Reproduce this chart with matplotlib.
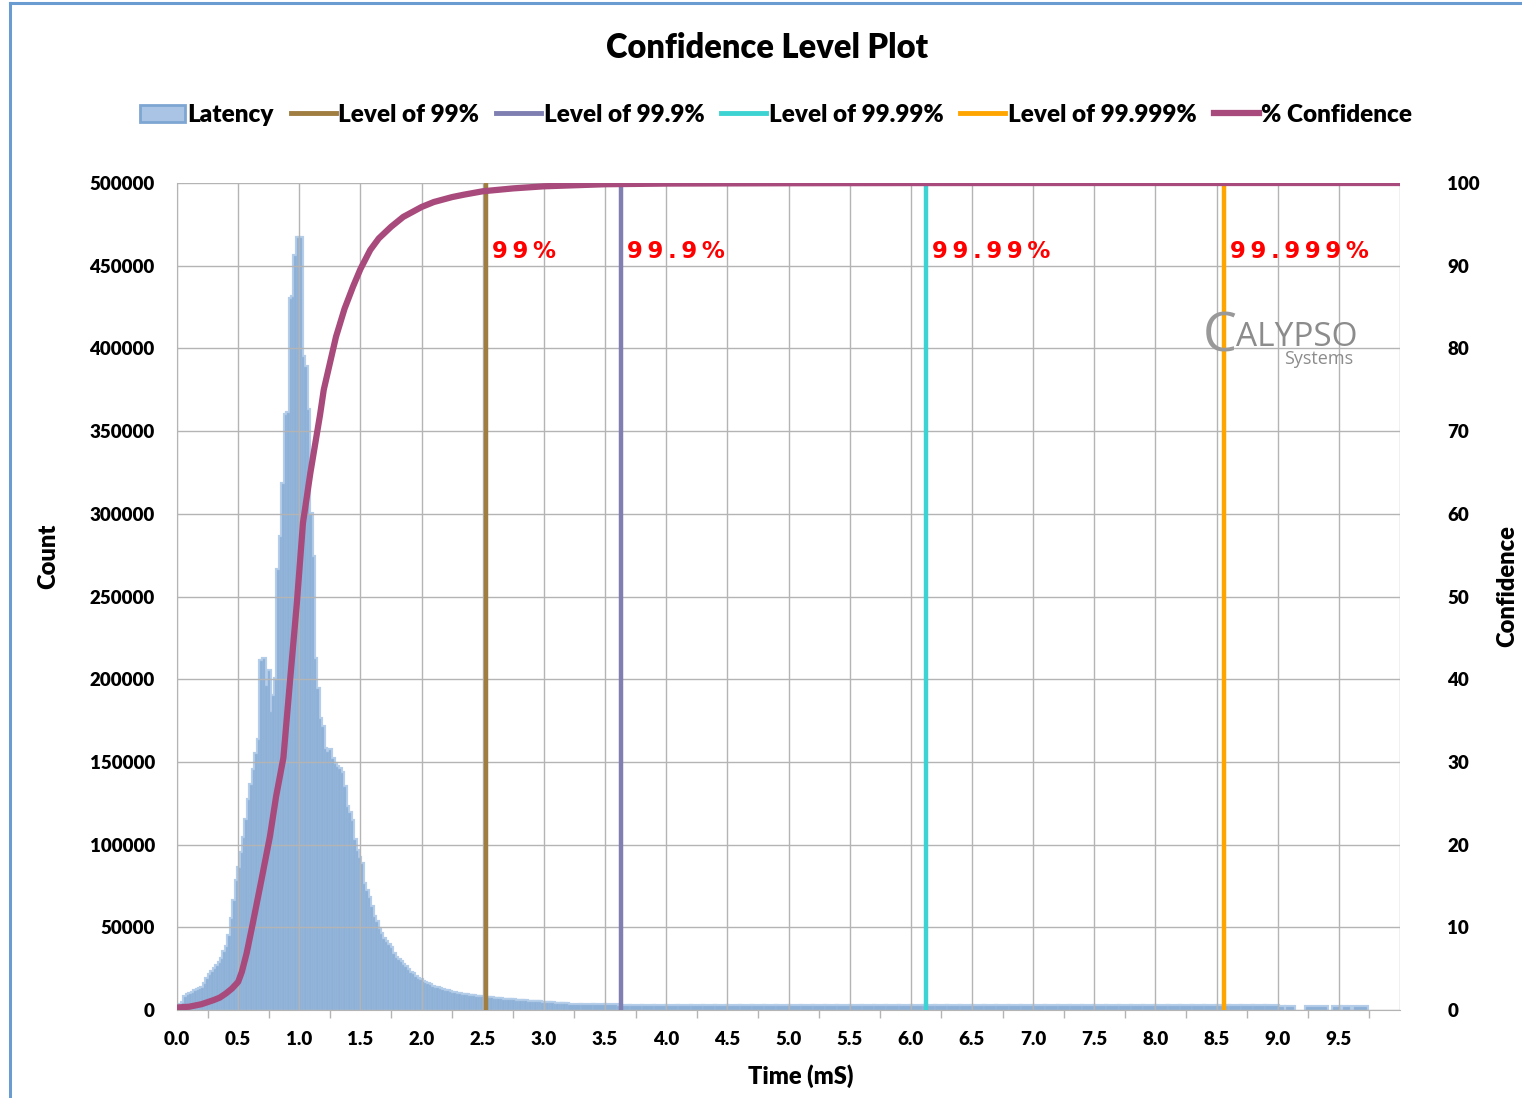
import numpy as np
import matplotlib.pyplot as plt
from matplotlib.lines import Line2D
from matplotlib.patches import Patch

plt.rcParams['font.family'] = ['Lato', 'DejaVu Sans']
plt.rcParams['font.weight'] = 'heavy'

# latency histogram: 0.02 ms bins starting at 0.00 ms
bin_w = 0.02
counts = [
    2000, 3000, 4000, 8000, 9000, 9500, 10500, 11500, 12000, 12500,
    13500, 16000, 19000, 21000, 23000, 24500, 26500, 28500, 31000, 35000,
    38000, 45000, 55000, 66000, 78000, 86000, 95000, 104000, 115000, 127000,
    136000, 145000, 155000, 163000, 211000, 212000, 196000, 205000, 180000, 190000,
    200000, 266000, 286000, 318000, 360000, 361000, 430000, 431000, 456000, 467000,
    467000, 395000, 389000, 363000, 300000, 274000, 212000, 194000, 176000, 171000,
    158000, 156000, 157000, 152000, 149000, 147000, 146000, 143000, 135000, 123000,
    119000, 114000, 103000, 96000, 92000, 88000, 76000, 72000, 68000, 62000,
    56000, 53000, 49000, 46000, 43000, 41000, 39000, 37500, 34000, 31500,
    30000, 29000, 27500, 26000, 24000, 22500, 21500, 20000, 19000, 18000,
    17000, 16500, 16000, 15000, 14000, 13500, 13000, 12500, 12000, 11500,
    11200, 11000, 10500, 10000, 9800, 9500, 9300, 9100, 8900, 8600,
    8400, 8200, 8000, 7800, 7700, 7500, 7300, 7100, 7000, 6800,
    6700, 6600, 6400, 6300, 6100, 6000, 5900, 5800, 5700, 5500,
    5400, 5300, 5200, 5100, 5000, 4900, 4800, 4700, 4600, 4500,
    4400, 4300, 4100, 4000, 3900, 3800, 3700, 3600, 3500, 3400,
]
bin_left = np.round(np.arange(len(counts)) * bin_w, 2)

# long tail, 0.1 ms bins from 3.2 ms
tail_counts = [
    3200, 3000, 2900, 2800, 2700, 2600, 2500, 2500, 2400, 2400,
    2300, 2300, 2300, 2200, 2200, 2200, 2200, 2200, 2200, 2200,
    2200, 2200, 2200, 2200, 2200, 2200, 2200, 2200, 2200, 2200,
    2200, 2200, 2200, 2200, 2200, 2200, 2200, 2200, 2200, 2200,
    2200, 2200, 2200, 2200, 2200, 2200, 2200, 2200, 2200, 2200,
    2200, 2200, 2200, 2200, 2200, 2200, 2200, 2200,
]
tail_left = np.round(3.2 + np.arange(len(tail_counts)) * 0.1, 1)

# isolated outliers past 9 ms
out_left = [9.00, 9.07, 9.23, 9.45, 9.53, 9.62]
out_right = [9.05, 9.13, 9.40, 9.51, 9.59, 9.73]
out_counts = [2000, 1800, 1800, 1800, 1800, 1800]

# cumulative confidence (%)
conf_t = [0, 0.1, 0.2, 0.3, 0.35, 0.4, 0.45, 0.5, 0.53, 0.57, 0.62, 0.69, 0.76,
          0.81, 0.87, 0.92, 0.98, 1.03, 1.09, 1.17, 1.2, 1.3, 1.37, 1.44, 1.5,
          1.58, 1.65, 1.75, 1.85, 2.0, 2.1, 2.25, 2.35, 2.5, 2.75, 3.0, 3.5,
          4.0, 5.0, 6.0, 8.0, 10.0]
conf = [0.3, 0.4, 0.7, 1.2, 1.5, 2.0, 2.6, 3.4, 4.6, 6.9, 10.5, 15.7, 21.0,
        25.8, 30.5, 39.1, 49.2, 58.9, 64.9, 72.0, 75.0, 81.4, 84.8, 87.5, 89.6,
        91.9, 93.3, 94.7, 95.9, 97.1, 97.7, 98.3, 98.6, 99.0, 99.35, 99.6, 99.85,
        99.93, 99.97, 99.99, 100, 100]

# confidence level markers
levels = [2.525, 3.627, 6.127, 8.562]
level_names = ['99%', '99.9%', '99.99%', '99.999%']
level_colors = ['#a07d40', '#7f7fb2', '#3ed3d3', '#ffa500']

face_c = '#8db0d7'
edge_c = '#b4cde8'
curve_c = '#a84a7b'
grid_c = '#b4b4b4'

W, H = 1522, 1098
fig = plt.figure(figsize=(W / 100, H / 100), dpi=100)
ax = fig.add_axes([177 / W, 1 - 1010 / H, (1400 - 177) / W, (1010 - 183) / H])
ax2 = ax.twinx()

lefts = np.concatenate([bin_left, tail_left, out_left])
widths = np.concatenate([np.full(len(bin_left), bin_w), np.full(len(tail_left), 0.1),
                         np.array(out_right) - np.array(out_left)])
heights = np.concatenate([counts, tail_counts, out_counts])

# light outline first, then the fill on top
ax.bar(lefts, heights, width=widths, align='edge', color=edge_c,
       edgecolor=edge_c, linewidth=3, zorder=1)
ax.bar(lefts, heights, width=widths, align='edge', color=face_c,
       edgecolor='#9fbee0', linewidth=0.3, zorder=1.5)

for x, c in zip(levels, level_colors):
    ax.axvline(x, color=c, linewidth=3.2, zorder=4)

ax2.plot(conf_t, conf, color=curve_c, linewidth=4.5, solid_capstyle='round',
         solid_joinstyle='round', zorder=5)
for x, name in zip(levels, level_names):
    ax2.text(x + 0.05, 91.7, '\u2009'.join(name), color='#ff0000', fontsize=16.5,
             family='DejaVu Sans', fontweight='bold', ha='left', va='center')

ax.set_xlim(0, 10)
ax.set_ylim(0, 500000)
ax2.set_ylim(0, 100)

major = np.arange(0, 10.01, 0.5)
ax.set_xticks(major)
ax.set_xticklabels([f'{v:.1f}' for v in major[:-1]] + [''])
ax.set_xticks(list(np.arange(0.25, 10, 0.5)) + [10], minor=True)
ax.tick_params(axis='x', which='major', length=0, pad=15, labelsize=13.5)
ax.tick_params(axis='x', which='minor', length=6, color=grid_c, width=1)

yt = np.arange(0, 500001, 50000)
ax.set_yticks(yt)
ax.set_yticklabels([str(v) for v in yt])
ax.tick_params(axis='y', length=0, pad=16, labelsize=13.5)
ax2.set_yticks(np.arange(0, 101, 10))
ax2.tick_params(axis='y', length=0, pad=34, labelsize=13.5)

ax.grid(True, color=grid_c, linewidth=1.0)
ax.set_axisbelow(False)
for s in ['top', 'right']:
    ax.spines[s].set_visible(False)
for s in ['left', 'bottom']:
    ax.spines[s].set_color(grid_c)
for s in ax2.spines.values():
    s.set_visible(False)

fig.text(767 / W, 1 - 48 / H, 'Confidence Level Plot', ha='center', va='center', fontsize=23.5)
fig.text(801 / W, 1 - 1076 / H, 'Time (mS)', ha='center', va='center', fontsize=17)
fig.text(48 / W, 1 - 556 / H, 'Count', ha='center', va='center', rotation=90, fontsize=17)
fig.text(1507 / W, 1 - 586 / H, 'Confidence', ha='center', va='center', rotation=90, fontsize=17)

handles = [Patch(facecolor='#a9c4e4', edgecolor='#7ea6d3', linewidth=2)]
handles += [Line2D([], [], color=c, linewidth=3.5) for c in level_colors]
handles += [Line2D([], [], color=curve_c, linewidth=4.5)]
labels = ['Latency'] + ['Level of ' + n for n in level_names] + ['% Confidence']
fig.legend(handles, labels, loc='center', bbox_to_anchor=(776 / W, 1 - 115 / H),
           ncol=6, frameon=False, fontsize=17.5, handlelength=1.85,
           handletextpad=0.1, columnspacing=0.7)

# company mark
logo_c = '#8c8c8c'
fig.text(1203 / W, 1 - 352 / H, 'C', color='#999999', fontsize=39,
         family='Open Sans', fontweight='normal', ha='left', va='baseline')
fig.text(1236 / W, 1 - 346 / H, 'ALYPSO', color=logo_c, fontsize=24,
         family='Open Sans', fontweight='normal', ha='left', va='baseline')
fig.text(1284 / W, 1 - 364 / H, 'Systems', color=logo_c, fontsize=13,
         family='Open Sans', fontweight='normal', ha='left', va='baseline')

# chart frame edges
fig.add_artist(Line2D([10 / W, 10 / W], [0, 1 - 3 / H], color='#6a9bd1', linewidth=2.2))
fig.add_artist(Line2D([10 / W, 1], [1 - 3 / H, 1 - 3 / H], color='#6a9bd1', linewidth=2.2))

fig.savefig('out.png', dpi=100)
